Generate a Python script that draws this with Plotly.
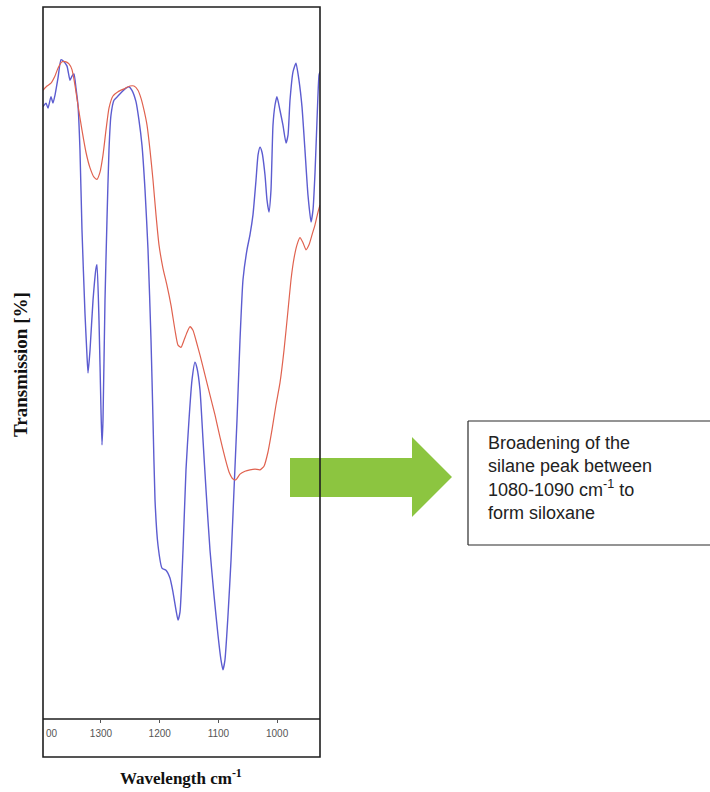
import plotly.graph_objects as go

# ---- data ----
wavenumber_blue = [1398.8, 1393.7, 1390.3, 1385.2, 1381.8, 1378.4, 1373.3, 1368.1, 1363.0, 1357.9,
                   1352.8, 1349.4, 1346.0, 1342.6, 1339.2, 1335.8, 1332.4, 1327.3, 1323.9, 1322.1,
                   1318.7, 1313.6, 1308.5, 1306.8, 1303.4, 1300.0, 1298.3, 1296.6, 1293.2, 1289.8,
                   1286.4, 1283.0, 1277.9, 1271.0, 1264.2, 1257.4, 1252.3, 1247.2, 1240.4, 1235.3,
                   1230.2, 1225.0, 1219.9, 1214.8, 1211.4, 1208.0, 1202.9, 1196.1, 1189.3, 1182.5,
                   1177.3, 1172.2, 1168.8, 1165.4, 1160.3, 1155.2, 1150.1, 1145.0, 1139.9, 1136.5,
                   1131.3, 1126.2, 1121.1, 1114.3, 1107.5, 1100.7, 1095.6, 1092.2, 1088.8, 1083.6,
                   1078.5, 1073.4, 1068.3, 1063.2, 1058.1, 1051.3, 1046.2, 1041.1, 1035.9, 1032.5,
                   1029.1, 1025.7, 1020.6, 1017.2, 1013.8, 1010.4, 1007.0, 1003.6, 1000.2, 995.1,
                   990.0, 984.8, 981.4, 978.0, 972.9, 967.8, 962.7, 957.6, 952.5, 947.4,
                   942.2, 938.8, 935.4, 932.0, 928.6, 926.9]
transmission_blue = [86.0, 86.5, 85.8, 87.4, 86.5, 87.6, 90.0, 92.6, 92.3, 91.7,
                     89.7, 90.3, 90.6, 88.6, 86.2, 79.9, 68.7, 57.0, 51.1, 48.6,
                     51.8, 58.8, 63.3, 63.8, 56.0, 43.4, 38.5, 42.0, 58.8, 70.1,
                     79.9, 84.8, 86.9, 87.5, 88.1, 88.6, 88.8, 88.3, 86.7, 84.1,
                     80.6, 74.3, 65.9, 53.2, 42.0, 30.8, 24.4, 21.2, 20.9, 19.8,
                     17.8, 15.3, 13.9, 15.0, 23.7, 35.0, 42.0, 47.6, 50.1, 49.3,
                     46.2, 39.2, 32.2, 23.7, 17.4, 11.8, 8.3, 6.9, 8.3, 14.6,
                     22.3, 32.2, 42.0, 53.2, 61.7, 65.9, 68.0, 70.8, 75.7, 79.2,
                     80.3, 79.6, 76.4, 72.9, 71.2, 74.3, 83.4, 86.2, 87.4, 85.5,
                     83.4, 80.9, 82.0, 86.9, 90.9, 92.1, 89.7, 86.0, 79.9, 73.6,
                     69.8, 71.5, 76.7, 84.1, 90.4, 90.9]

wavenumber_red = [1398.8, 1392.0, 1385.2, 1378.4, 1373.3, 1366.4, 1359.6, 1354.5, 1349.4, 1344.3,
                  1339.2, 1332.4, 1325.6, 1318.7, 1311.9, 1306.8, 1301.7, 1296.6, 1291.5, 1286.4,
                  1279.6, 1271.0, 1260.8, 1250.6, 1243.8, 1237.0, 1231.9, 1226.7, 1221.6, 1216.5,
                  1211.4, 1206.3, 1201.2, 1194.4, 1187.6, 1180.7, 1173.9, 1168.8, 1163.7, 1158.6,
                  1153.5, 1148.4, 1143.3, 1138.2, 1131.3, 1122.8, 1114.3, 1105.8, 1097.3, 1088.8,
                  1081.9, 1075.1, 1070.0, 1063.2, 1054.7, 1046.2, 1037.6, 1029.1, 1022.3, 1015.5,
                  1008.7, 1001.9, 995.1, 988.2, 981.4, 976.3, 971.2, 966.1, 961.0, 955.9,
                  950.8, 945.6, 940.5, 935.4, 930.3, 926.9]
transmission_red = [88.3, 88.9, 89.3, 90.3, 91.4, 92.3, 92.3, 92.0, 91.2, 89.0,
                    86.2, 82.7, 79.6, 77.4, 76.1, 75.8, 76.8, 79.2, 82.7, 85.8,
                    87.5, 88.1, 88.5, 88.9, 88.9, 88.3, 87.2, 85.5, 83.4, 79.9,
                    75.7, 70.8, 66.6, 63.3, 60.9, 58.1, 54.6, 52.5, 52.2, 53.2,
                    54.3, 55.1, 54.6, 53.2, 51.1, 48.3, 45.5, 42.7, 39.6, 36.7,
                    34.7, 33.7, 33.6, 34.4, 34.8, 35.0, 35.1, 35.0, 35.5, 37.5,
                    40.6, 44.1, 47.2, 51.8, 57.4, 61.7, 64.7, 66.6, 67.6, 66.9,
                    65.9, 66.6, 68.0, 69.4, 71.2, 72.2]

tick_values = [1300, 1200, 1100, 1000]
tick_labels = ["1300", "1200", "1100", "1000"]
x_range = [1398.8, 926.9]
y_range = [0, 100]

# ---- geometry helpers (pixel -> paper) ----
W, H = 710, 792
L, R, T, B = 43, 320, 7, 719


def px(x):
    return (x - L) / (R - L)


def py(y):
    return (B - y) / (B - T)


fig = go.Figure()
fig.add_trace(go.Scatter(
    x=wavenumber_blue, y=transmission_blue, mode="lines",
    line=dict(color="#5c5cd0", width=1.4, shape="spline", smoothing=0.5),
    hoverinfo="skip", showlegend=False))
fig.add_trace(go.Scatter(
    x=wavenumber_red, y=transmission_red, mode="lines",
    line=dict(color="#e0624f", width=1.2, shape="spline", smoothing=0.5),
    hoverinfo="skip", showlegend=False))

shapes = []
# green block arrow (drawn first so the frame lies on top)
arrow_pts = [(290, 458), (412, 458), (412, 437), (452, 477), (412, 517), (412, 497), (290, 497)]
path = "M " + " L ".join(f"{px(a):.4f},{py(b):.4f}" for a, b in arrow_pts) + " Z"
shapes.append(dict(type="path", xref="paper", yref="paper", path=path,
                   fillcolor="#8cc540", line=dict(width=0), layer="above"))
# frame around plot + tick label strip
shapes.append(dict(type="rect", xref="paper", yref="paper", x0=0, x1=1, y0=py(757), y1=1,
                   line=dict(color="#1e1e1e", width=1.6), fillcolor="rgba(0,0,0,0)", layer="above"))
shapes.append(dict(type="line", xref="paper", yref="paper", x0=0, x1=1, y0=0, y1=0,
                   line=dict(color="#1e1e1e", width=1.6), layer="above"))
# text box: left, top and bottom edges (right edge lies beyond the picture)
box_line = dict(color="#2a2a2a", width=1.2)
shapes.append(dict(type="line", xref="paper", yref="paper", x0=px(468), x1=px(780),
                   y0=py(421), y1=py(421), line=box_line, layer="above"))
shapes.append(dict(type="line", xref="paper", yref="paper", x0=px(468), x1=px(780),
                   y0=py(545), y1=py(545), line=box_line, layer="above"))
shapes.append(dict(type="line", xref="paper", yref="paper", x0=px(468), x1=px(468),
                   y0=py(421), y1=py(545), line=box_line, layer="above"))

annotations = [
    dict(x=px(44), y=py(734), xref="paper", yref="paper", text="00", showarrow=False,
         xanchor="left", yanchor="middle", font=dict(family="Liberation Sans, Arial", size=10, color="#555")),
    dict(x=px(181), y=py(777), xref="paper", yref="paper", text="<b>Wavelength cm<sup>-1</sup></b>",
         showarrow=False, xanchor="center", yanchor="middle",
         font=dict(family="Liberation Serif, Times New Roman", size=17, color="#111")),
    dict(x=px(20), y=py(365), xref="paper", yref="paper", text="<b>Transmission [%]</b>",
         showarrow=False, textangle=-90, xanchor="center", yanchor="middle",
         font=dict(family="Liberation Serif, Times New Roman", size=19, color="#111")),
    dict(x=px(486), y=py(478), xref="paper", yref="paper",
         text="Broadening of the<br>silane peak between<br>1080-1090 cm<sup>-1</sup> to<br>form siloxane",
         showarrow=False, xanchor="left", yanchor="middle", align="left",
         font=dict(family="Liberation Sans, Arial", size=18, color="#222")),
]

fig.update_layout(
    width=W, height=H,
    margin=dict(l=L, r=W - R, t=T, b=H - B, pad=0),
    paper_bgcolor="white", plot_bgcolor="white",
    showlegend=False,
    xaxis=dict(range=x_range, tickvals=tick_values, ticktext=tick_labels,
               ticks="outside", ticklen=3, tickwidth=1, tickcolor="#555",
               tickfont=dict(family="Liberation Sans, Arial", size=10, color="#555"),
               ticklabelstandoff=2,
               showgrid=False, zeroline=False, showline=False),
    yaxis=dict(range=y_range, showticklabels=False, ticks="", showgrid=False,
               zeroline=False, showline=False),
    shapes=shapes,
    annotations=annotations,
)

fig.write_html("out.html", config={"displayModeBar": False},
               post_script="document.body.style.margin='0px';document.body.style.overflow='hidden';")
